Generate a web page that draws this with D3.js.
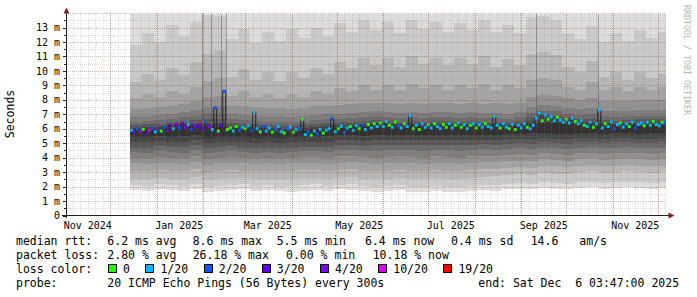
<!DOCTYPE html>
<html>
<head>
<meta charset="utf-8">
<script src="https://cdn.jsdelivr.net/npm/d3@7"></script>
<style>
html, body { margin: 0; padding: 0; background: #fff; }
svg { display: block; }
text { font-family: "DejaVu Sans Mono", monospace; fill: #000; white-space: pre; }
</style>
</head>
<body>
<svg id="chart" width="697" height="297"></svg>
<script>
// time frame of the graph (400 days ending at the probe time)
const endTime = new Date(2025, 11, 6, 3, 47, 0);
const startTime = d3.timeDay.offset(endTime, -400);
const firstSample = new Date(2024, 11, 14);
const medianStepDays = 2;
const smokeStepDays = 8;

const yTickValues = [0, 1, 2, 3, 4, 5, 6, 7, 8, 9, 10, 11, 12, 13];
const yTickLabels = ["0", "1 m", "2 m", "3 m", "4 m", "5 m", "6 m", "7 m", "8 m", "9 m", "10 m", "11 m", "12 m", "13 m"];
const xTickLabels = ["Nov 2024", "Jan 2025", "Mar 2025", "May 2025", "Jul 2025", "Sep 2025", "Nov 2025"];

const lossLabels = ["0", "1/20", "2/20", "3/20", "4/20", "10/20", "19/20"];
const lossColors = ["#26ff00", "#00b8ff", "#0059ff", "#5e00ff", "#7e00ff", "#dd00ff", "#ff0000"];

const medianStats = ["6.2 ms avg", "8.6 ms max", "5.5 ms min", "6.4 ms now", "0.4 ms sd", "14.6", "am/s"];
const lossStats = ["2.80 % avg", "26.18 % max", "0.00 % min", "10.18 % now"];
const probeText = "20 ICMP Echo Pings (56 Bytes) every 300s";
const endText = "end: Sat Dec  6 03:47:00 2025";

// median rtt in ms, one value every 2 days from 14 Dec 2024
const medianMs = [
  5.9, 5.75, 6.0, 5.8, 5.95, 5.7, 5.9, 6.05, 5.8, 5.95, 5.85,
  6.1, 5.9, 6.25, 6.0, 6.3, 6.05, 6.4, 6.1, 6.3, 5.95, 6.25, 6.1,
  6.35, 6.0, 6.4, 6.15, 5.95, 7.45, 5.85, 6.2, 8.6, 5.95,
  6.05, 5.85, 6.15, 5.9, 6.1, 6.0, 6.2, 5.9,
  7.15,
  6.0, 5.8, 6.15, 5.85, 6.05, 5.75, 6.0, 6.15, 5.8, 5.7, 6.0, 6.1, 5.75, 5.95, 6.05,
  6.65,
  5.6, 5.8, 5.55, 5.85, 5.65, 5.95, 5.7, 5.9, 6.0,
  6.7,
  5.8, 6.0, 6.15, 5.75, 6.05, 6.15, 5.9, 6.2, 6.0, 6.25, 5.95, 6.3, 6.05, 6.35, 6.15,
  6.4, 6.15, 6.5, 6.25, 6.1, 6.45, 6.2, 6.05, 6.35, 6.15,
  6.9,
  6.0, 6.25, 5.95, 6.35, 6.1, 6.3, 6.05, 6.35, 6.15, 6.0, 6.3, 6.1, 6.35, 6.05, 6.25, 6.4, 6.1, 6.3, 6.0, 6.25, 6.35, 6.05, 6.3, 6.1, 6.35, 6.15, 6.05,
  6.85,
  6.25, 6.05, 6.35, 6.1, 6.0, 6.3, 5.95, 6.25, 6.05, 6.35, 6.1, 6.0, 6.25,
  6.75, 7.05, 6.55, 6.95,
  6.65, 6.85, 6.55, 6.8, 6.6,
  6.45, 6.65, 6.4, 6.75, 6.5, 6.35, 6.55,
  6.25, 6.15, 6.45, 6.1, 6.35,
  7.3,
  6.05, 6.35, 6.15, 6.45, 6.0, 6.3, 6.4, 6.1, 6.35, 6.15, 6.45, 6.05, 6.3,
  6.4, 6.2, 6.45, 6.25, 6.5, 6.3, 6.2, 6.45, 6.4
];

// loss class per median sample (index into lossLabels)
const lossClass = [
  1, 3, 2, 4, 0, 3, 5, 2, 1, 4, 0,
  2, 4, 3, 1, 4, 2, 3, 4, 1, 2, 4, 3,
  4, 3, 2, 4, 1, 2, 0, 3, 2, 0,
  0, 1, 0, 2, 1, 0, 1, 2,
  1,
  1, 0, 2, 1, 1, 0, 2, 1, 1, 0, 2, 1, 0, 1, 2,
  0,
  1, 2, 0, 1, 2, 1, 0, 1, 1,
  2,
  1, 0, 1, 2, 1, 0, 1, 1, 0, 2, 1, 0, 1, 0, 1,
  0, 1, 1, 0, 1, 0, 2, 1, 0, 1,
  1,
  0, 1, 0, 1, 1, 0, 1, 0, 1, 1, 0, 0, 1, 1, 0, 1, 0, 1, 1, 0, 1, 0, 1, 1, 0, 1, 1,
  1,
  1, 0, 1, 1, 0, 1, 0, 1, 1, 1, 0, 1, 1,
  1, 1, 0, 1,
  0, 1, 1, 0, 1,
  1, 0, 1, 1, 0, 1, 1,
  0, 1, 1, 0, 1,
  1,
  1, 0, 1, 1, 2, 1, 0, 1, 1, 0, 1, 2, 1,
  1, 0, 1, 1, 0, 1, 1, 0, 2
];

// sorted ping times (ms), one column every 8 days from 14 Dec 2024
const ping01 = [1.75,1.70,1.80,1.75,1.70, 1.80,1.65,1.70,1.75,1.80, 1.70,1.75,1.70,1.65,1.70, 1.75,1.70,1.80,1.75,1.70, 1.65,1.70,1.75,1.65,1.60, 1.70,1.65,1.60,1.70,1.75, 1.70,1.80,1.85,1.80,1.90, 1.85,1.80,1.90,1.95,1.85, 1.90,1.95,1.90,1.85,1.90];
const ping02 = [2.10,2.05,2.15,2.10,2.05, 2.20,2.00,2.05,2.10,2.15, 2.05,2.10,2.00,2.05,2.10, 2.15,2.05,2.10,2.15,2.05, 2.00,2.05,2.10,2.00,1.95, 2.05,2.00,1.95,2.05,2.10, 2.10,2.20,2.25,2.20,2.30, 2.25,2.20,2.30,2.35,2.25, 2.30,2.35,2.30,2.25,2.30];
const ping03 = [2.55,2.50,2.60,2.55,2.50, 2.65,2.45,2.55,2.60,2.60, 2.50,2.55,2.50,2.55,2.60, 2.60,2.50,2.60,2.65,2.55, 2.50,2.55,2.60,2.55,2.50, 2.60,2.55,2.50,2.60,2.65, 2.70,2.80,2.85,2.80,2.95, 2.90,2.85,3.00,3.05,2.95, 3.00,3.05,3.00,2.95,3.00];
const ping04 = [3.10,3.05,3.15,3.10,3.05, 3.20,3.00,3.10,3.15,3.10, 3.05,3.10,3.05,3.10,3.15, 3.15,3.05,3.15,3.20,3.10, 3.05,3.10,3.15,3.10,3.05, 3.15,3.10,3.05,3.15,3.20, 3.25,3.30,3.35,3.30,3.45, 3.40,3.35,3.45,3.50,3.40, 3.45,3.50,3.45,3.40,3.45];
const ping05 = [3.60,3.55,3.65,3.60,3.55, 3.70,3.50,3.60,3.65,3.60, 3.55,3.60,3.55,3.60,3.65, 3.65,3.55,3.65,3.70,3.60, 3.55,3.60,3.65,3.60,3.55, 3.65,3.60,3.55,3.65,3.70, 3.70,3.75,3.80,3.75,3.90, 3.85,3.80,3.90,3.95,3.85, 3.90,3.95,3.90,3.85,3.90];
const ping06 = [4.00,3.95,4.05,4.00,3.95, 4.10,3.90,4.00,4.05,4.00, 3.95,4.00,3.95,4.00,4.05, 4.05,4.00,4.10,4.10,4.05, 4.00,4.05,4.10,4.05,4.00, 4.10,4.05,4.00,4.10,4.15, 4.15,4.20,4.25,4.20,4.30, 4.25,4.20,4.30,4.35,4.25, 4.30,4.35,4.30,4.25,4.30];
const ping07 = [4.40,4.35,4.45,4.40,4.35, 4.50,4.30,4.40,4.45,4.40, 4.35,4.40,4.35,4.40,4.45, 4.45,4.40,4.50,4.50,4.45, 4.45,4.50,4.55,4.50,4.45, 4.55,4.50,4.45,4.55,4.60, 4.55,4.60,4.65,4.60,4.70, 4.65,4.60,4.70,4.75,4.65, 4.70,4.75,4.70,4.65,4.70];
const ping08 = [4.70,4.70,4.80,4.75,4.75, 4.85,4.65,4.75,4.80,4.70, 4.65,4.70,4.65,4.70,4.75, 4.75,4.75,4.85,4.85,4.80, 4.85,4.90,4.90,4.85,4.85, 4.90,4.85,4.85,4.90,4.95, 4.90,4.95,5.00,4.95,5.05, 5.00,4.95,5.05,5.05,5.00, 5.05,5.05,5.00,5.00,5.05];
const ping09 = [5.05,5.05,5.15,5.10,5.10, 5.20,5.00,5.10,5.10,5.05, 5.00,5.05,5.00,5.05,5.10, 5.10,5.10,5.20,5.20,5.15, 5.20,5.20,5.25,5.20,5.20, 5.25,5.20,5.20,5.25,5.25, 5.25,5.30,5.30,5.30,5.35, 5.30,5.30,5.35,5.35,5.30, 5.35,5.35,5.30,5.30,5.35];
const ping10 = [5.40,5.40,5.50,5.45,5.50, 5.55,5.35,5.45,5.45,5.40, 5.35,5.40,5.35,5.40,5.45, 5.45,5.50,5.55,5.55,5.50, 5.55,5.55,5.60,5.55,5.55, 5.60,5.55,5.55,5.60,5.60, 5.60,5.65,5.65,5.70,5.70, 5.65,5.65,5.70,5.70,5.65, 5.70,5.70,5.65,5.70,5.70];
const ping11 = [5.85,5.90,5.95,6.05,6.10, 6.15,6.10,6.15,6.00,5.95, 5.90,5.85,5.80,5.75,5.85, 5.95,6.00,6.05,6.10,6.15, 6.20,6.15,6.10,6.15,6.10, 6.10,6.15,6.10,6.15,6.10, 6.10,6.05,6.10,6.30,6.50, 6.50,6.40,6.25,6.20,6.20, 6.15,6.20,6.20,6.25,6.25];
const ping12 = [6.05,6.10,6.15,6.25,6.30, 6.35,6.35,6.40,6.20,6.15, 6.10,6.05,6.00,6.00,6.05, 6.15,6.20,6.25,6.30,6.35, 6.40,6.35,6.30,6.35,6.30, 6.30,6.35,6.30,6.35,6.30, 6.30,6.25,6.35,6.55,6.70, 6.70,6.60,6.45,6.45,6.40, 6.35,6.40,6.40,6.45,6.45];
const ping13 = [6.25,6.30,6.35,6.45,6.50, 6.60,6.65,6.70,6.40,6.35, 6.30,6.25,6.25,6.20,6.25, 6.35,6.40,6.45,6.50,6.55, 6.60,6.55,6.50,6.55,6.50, 6.55,6.55,6.50,6.55,6.50, 6.50,6.45,6.55,6.80,6.95, 6.90,6.80,6.70,6.70,6.60, 6.55,6.60,6.65,6.65,6.65];
const ping14 = [6.50,6.55,6.60,6.70,6.80, 6.90,7.00,7.05,6.65,6.60, 6.55,6.50,6.50,6.45,6.50, 6.60,6.65,6.70,6.75,6.80, 6.85,6.80,6.75,6.80,6.75, 6.80,6.80,6.75,6.80,6.75, 6.75,6.70,6.80,7.10,7.25, 7.20,7.05,6.95,7.00,6.85, 6.80,6.85,6.90,6.90,6.90];
const ping15 = [6.85,6.90,6.95,7.05,7.15, 7.30,7.50,7.55,7.00,6.95, 6.90,6.85,6.85,6.80,6.85, 6.95,7.00,7.05,7.10,7.15, 7.20,7.15,7.10,7.15,7.10, 7.15,7.15,7.10,7.15,7.10, 7.10,7.05,7.15,7.50,7.65, 7.60,7.45,7.35,7.45,7.25, 7.20,7.25,7.30,7.30,7.30];
const ping16 = [7.40,7.45,7.50,7.60,7.70, 7.90,8.20,8.30,7.60,7.55, 7.50,7.45,7.45,7.40,7.45, 7.55,7.60,7.65,7.70,7.75, 7.80,7.75,7.70,7.75,7.70, 7.75,7.75,7.70,7.75,7.70, 7.75,7.70,7.80,8.20,8.35, 8.30,8.10,8.00,8.15,7.95, 7.90,7.95,8.00,8.00,8.00];
const ping17 = [8.10,8.40,8.20,8.60,8.40, 8.90,9.30,9.50,8.30,8.60, 8.20,8.40,8.10,8.40,8.20, 8.60,8.40,8.80,8.60,9.00, 8.70,9.00,8.70,9.10,8.80, 9.00,8.70,9.00,8.80,9.10, 8.70,9.00,8.80,9.40,9.50, 9.40,8.90,8.70,9.20,8.70, 8.90,8.60,8.90,8.70,8.90];
const ping18 = [9.20,9.80,9.40,10.2,9.70, 10.6,11.2,11.4,9.60,10.1, 9.40,9.90,9.30,9.90,9.50, 10.2,9.80,10.6,10.2,10.9, 10.4,10.9,10.3,11.0,10.5, 10.9,10.4,10.9,10.5,11.0, 10.3,10.8,10.4,11.2,11.3, 11.1,10.3,9.90,10.7,9.60, 9.90,9.40,9.90,9.50,9.80];
const ping19 = [11.8,12.6,12.0,13.2,12.4, 13.4,13.9,13.8,12.2,12.9, 11.9,12.7,12.1,12.9,12.3, 13.0,12.4,13.3,12.7,13.5, 12.8,13.4,12.6,13.5,12.9, 13.4,12.7,13.3,12.8,13.5, 12.7,13.2,12.6,13.7,13.8, 13.5,12.6,12.2,13.1,12.0, 12.6,12.1,12.8,12.3,12.7];
const ping20 = [15.0,15.0,15.0,15.0,15.0, 15.0,15.0,15.0,15.0,15.0, 15.0,15.0,15.0,15.0,15.0, 15.0,15.0,15.0,15.0,15.0, 15.0,15.0,15.0,15.0,15.0, 15.0,15.0,15.0,15.0,15.0, 15.0,15.0,15.0,15.0,15.0, 15.0,15.0,15.0,15.0,15.0, 15.0,15.0,15.0,15.0,15.0];

// single days whose upper pings stand out as dark streaks
const streakDates = ["2025-01-31", "2025-02-06", "2025-02-13", "2025-02-16", "2025-09-11", "2025-10-22"];
const streakFromMs = [6.6, 6.5, 6.8, 6.7, 7.0, 6.8];

const pings = [ping01, ping02, ping03, ping04, ping05, ping06, ping07, ping08, ping09, ping10,
               ping11, ping12, ping13, ping14, ping15, ping16, ping17, ping18, ping19, ping20];

const svg = d3.select("#chart");
const plot = {left: 65.5, right: 665.5, top: 13.1, bottom: 215.5};

const x = d3.scaleTime().domain([startTime, endTime]).range([plot.left, plot.right]);
const y = d3.scaleLinear().domain([0, 14]).range([plot.bottom, plot.top]);
const px = v => Math.round(v) + 0.5;

svg.append("defs").append("clipPath").attr("id", "plotClip")
    .append("rect").attr("x", 66).attr("y", 14).attr("width", 600).attr("height", 201.5);

// smoke: band k spans ping k .. ping (21-k), darker towards the middle
const smokeDates = ping01.map((_, i) => d3.timeDay.offset(firstSample, i * smokeStepDays));
const smokeRows = smokeDates.map((t, i) => ({t: t, i: i}));
smokeRows.push({t: d3.timeDay.offset(smokeDates[smokeDates.length - 1], smokeStepDays), i: smokeDates.length - 1});

const smokeG = svg.append("g").attr("clip-path", "url(#plotClip)");
for (let k = 0; k < 10; k++) {
    const lo = pings[k], hi = pings[19 - k];
    const shade = Math.floor(190 / 10 * (9 - k)) + 50;
    smokeG.append("path")
        .datum(smokeRows)
        .attr("d", d3.area().curve(d3.curveStepAfter)
            .x(d => x(d.t)).y0(d => y(lo[d.i])).y1(d => y(hi[d.i])))
        .attr("fill", d3.rgb(shade, shade, shade))
        .attr("shape-rendering", "crispEdges");
}

const parseDay = d3.timeParse("%Y-%m-%d");
smokeG.selectAll("rect.streak")
    .data(streakDates)
    .enter().append("rect")
    .attr("class", "streak")
    .attr("x", d => Math.round(x(parseDay(d))))
    .attr("width", 1)
    .attr("y", y(14))
    .attr("height", (d, i) => y(streakFromMs[i]) - y(14))
    .attr("fill", "#000")
    .attr("fill-opacity", 0.28)
    .attr("shape-rendering", "crispEdges");

// median: thin dark step line, then one short coloured bar per sample
const medRows = medianMs.map((v, i) => {
    const t0 = d3.timeDay.offset(firstSample, i * medianStepDays);
    return {t0: t0, t1: d3.timeDay.offset(t0, medianStepDays), v: v, c: lossClass[i]};
});
const stepPts = [];
medRows.forEach(d => { stepPts.push({t: d.t0, v: d.v}, {t: d.t1, v: d.v}); });

const lineG = svg.append("g").attr("clip-path", "url(#plotClip)");
lineG.append("path")
    .datum(stepPts)
    .attr("d", d3.line().x(d => x(d.t)).y(d => y(d.v)))
    .attr("fill", "none")
    .attr("stroke", "#202020")
    .attr("stroke-width", 1);

lineG.selectAll("line.med")
    .data(medRows)
    .enter().append("line")
    .attr("class", "med")
    .attr("x1", d => x(d.t0))
    .attr("x2", d => x(d.t1))
    .attr("y1", d => y(d.v))
    .attr("y2", d => y(d.v))
    .attr("stroke", d => lossColors[d.c])
    .attr("stroke-width", 3);

// grid on top of the graph, as rrdtool does
const gridG = svg.append("g").attr("stroke-dasharray", "1,1").attr("shape-rendering", "crispEdges");
const minorColor = "rgba(140,140,140,0.3)";
const majorColor = "rgba(130,30,30,0.32)";

d3.timeDay.every(5).range(startTime, endTime).forEach(t => {
    gridG.append("line").attr("x1", px(x(t))).attr("x2", px(x(t)))
        .attr("y1", plot.top).attr("y2", plot.bottom).attr("stroke", minorColor);
});
d3.range(0.5, 14, 1).forEach(v => {
    gridG.append("line").attr("x1", 66).attr("x2", 666)
        .attr("y1", px(y(v))).attr("y2", px(y(v))).attr("stroke", minorColor);
});
d3.timeMonth.range(startTime, endTime).forEach(t => {
    gridG.append("line").attr("x1", px(x(t))).attr("x2", px(x(t)))
        .attr("y1", plot.top).attr("y2", plot.bottom).attr("stroke", majorColor);
});
d3.range(1, 15, 1).forEach(v => {
    gridG.append("line").attr("x1", 66).attr("x2", 666)
        .attr("y1", px(y(v))).attr("y2", px(y(v))).attr("stroke", majorColor);
});

// axes
const axisG = svg.append("g").attr("shape-rendering", "crispEdges").attr("stroke", "#1f1f1f");
axisG.append("line").attr("x1", 62).attr("x2", 669).attr("y1", 215.5).attr("y2", 215.5);
axisG.append("line").attr("x1", 66.5).attr("x2", 66.5).attr("y1", 218).attr("y2", 12);
yTickValues.forEach(v => {
    axisG.append("line").attr("x1", 62.5).attr("x2", 66).attr("y1", px(y(v))).attr("y2", px(y(v)));
    axisG.append("line").attr("x1", 64).attr("x2", 66).attr("y1", px(y(v + 0.5))).attr("y2", px(y(v + 0.5)));
});

svg.append("path").attr("d", "M63.5,13.5 L69.5,13.5 L66.5,7.5 Z").attr("fill", "#7f1f1f");
svg.append("path").attr("d", "M668.5,212.5 L668.5,218.5 L674.5,215.5 Z").attr("fill", "#7f1f1f");

// tick labels
svg.append("g").selectAll("text")
    .data(yTickValues)
    .enter().append("text")
    .attr("x", 60).attr("y", d => y(d) + 3.6)
    .attr("text-anchor", "end")
    .attr("font-size", "10px")
    .text((d, i) => yTickLabels[i]);

const parseMonth = d3.timeParse("%b %Y");
svg.append("g").selectAll("text")
    .data(xTickLabels)
    .enter().append("text")
    .attr("x", d => x(d3.timeDay.offset(parseMonth(d), 15)))
    .attr("y", 228.5)
    .attr("text-anchor", "middle")
    .attr("font-size", "10px")
    .text(d => d);

svg.append("text")
    .attr("transform", "translate(14,114) rotate(-90)")
    .attr("text-anchor", "middle")
    .attr("font-size", "11.5px")
    .text("Seconds");

svg.append("text")
    .attr("transform", "translate(684,5) rotate(90)")
    .attr("font-size", "8.3px")
    .style("fill", "#b4b4b4")
    .text("RRDTOOL / TOBI OETIKER");

// legend
const legendFont = "11.5px";
const rowY = [245, 259, 273, 286.7];

function legendText(xPos, yPos, str) {
    return svg.append("text").attr("x", xPos).attr("y", yPos)
        .attr("font-size", legendFont).text(str);
}

legendText(16, rowY[0], "median rtt:");
[107.3, 192.7, 276.7, 365, 451, 530.7, 579.3].forEach((xp, i) => legendText(xp, rowY[0], medianStats[i]));

legendText(16, rowY[1], "packet loss:");
[107.3, 192.7, 286, 372.7].forEach((xp, i) => legendText(xp, rowY[1], lossStats[i]));

legendText(16, rowY[2], "loss color:");
let cursor = 108;
lossLabels.forEach((lab, i) => {
    svg.append("rect")
        .attr("x", cursor + 0.5).attr("y", rowY[2] - 8.5)
        .attr("width", 8).attr("height", 8)
        .attr("fill", lossColors[i]).attr("stroke", "#000")
        .attr("shape-rendering", "crispEdges");
    const t = legendText(cursor + 15, rowY[2], lab);
    cursor = cursor + 15 + t.node().getComputedTextLength() + 15.5;
});

legendText(16, rowY[3], "probe:");
legendText(107.3, rowY[3], probeText);
legendText(478.3, rowY[3], endText);
</script>
</body>
</html>
